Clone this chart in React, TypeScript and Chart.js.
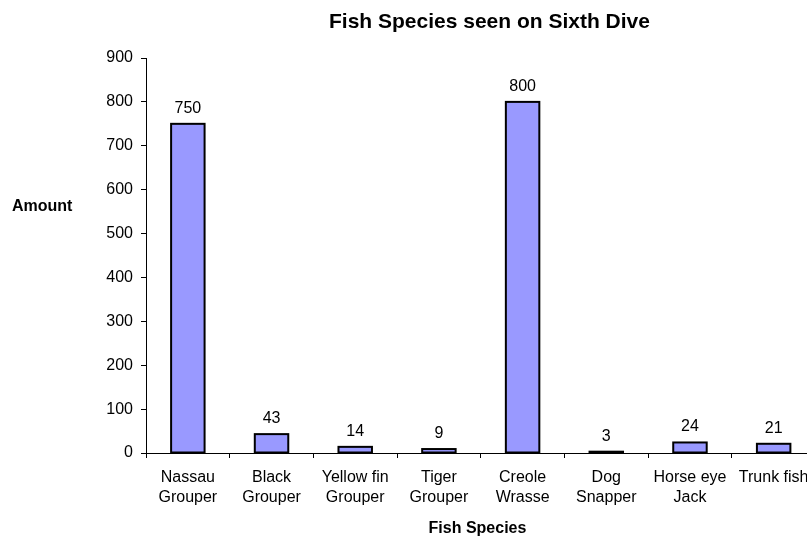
import React, { useEffect, useRef } from "react";
import { Chart, registerables } from "chart.js";

Chart.register(...registerables);

const categories: string[][] = [
  ["Nassau", "Grouper"],
  ["Black", "Grouper"],
  ["Yellow fin", "Grouper"],
  ["Tiger", "Grouper"],
  ["Creole", "Wrasse"],
  ["Dog", "Snapper"],
  ["Horse eye", "Jack"],
  ["Trunk fish"],
];
const amounts: number[] = [750, 43, 14, 9, 800, 3, 24, 21];
const yTicks: number[] = [0, 100, 200, 300, 400, 500, 600, 700, 800, 900];

const chartTitle = "Fish Species seen on Sixth Dive";
const yTitle = "Amount";
const xTitle = "Fish Species";

const FONT = "'Liberation Sans', Arial, Helvetica, sans-serif";

const textPlugin = {
  id: "customText",
  afterDatasetsDraw(chart: any) {
    const ctx = chart.ctx;
    ctx.save();
    const meta = chart.getDatasetMeta(0);
    // bar outlines straddling the bar edges
    ctx.strokeStyle = "#000";
    ctx.lineWidth = 2;
    meta.data.forEach((bar: any) => {
      const left = bar.x - bar.width / 2;
      const top = Math.min(bar.y, bar.base);
      const h = Math.abs(bar.base - bar.y);
      ctx.strokeRect(left, top, bar.width, h);
    });
    ctx.fillStyle = "#000";
    ctx.font = `16px ${FONT}`;
    ctx.textAlign = "center";
    ctx.textBaseline = "alphabetic";
    meta.data.forEach((bar: any, i: number) => {
      ctx.fillText(String(amounts[i]), bar.x, bar.y - 11);
    });
    ctx.restore();
  },
  afterDraw(chart: any) {
    const ctx = chart.ctx;
    ctx.save();
    ctx.fillStyle = "#000";
    ctx.textBaseline = "alphabetic";
    ctx.font = `bold 21px ${FONT}`;
    ctx.textAlign = "center";
    ctx.fillText(chartTitle, 489.5, 27.5);
    ctx.font = `bold 16px ${FONT}`;
    ctx.textAlign = "left";
    ctx.fillText(yTitle, 12, 210.5);
    ctx.textAlign = "center";
    ctx.fillText(xTitle, 477.5, 533);
    ctx.restore();
  },
};

export default function App() {
  const ref = useRef<HTMLCanvasElement | null>(null);
  useEffect(() => {
    if (!ref.current) return;
    const chart = new Chart(ref.current, {
      type: "bar",
      data: {
        labels: categories,
        datasets: [
          {
            data: amounts,
            backgroundColor: "#9999FF",
            borderWidth: 0,
            barPercentage: 0.4,
            categoryPercentage: 1.0,
          },
        ],
      },
      options: {
        animation: false,
        responsive: false,
        devicePixelRatio: 1,
        layout: { padding: { left: 101, right: 14.5, top: 58, bottom: 0 } },
        plugins: {
          legend: { display: false },
          title: { display: false },
          tooltip: { enabled: false },
        },
        scales: {
          x: {
            grid: {
              display: true,
              drawOnChartArea: false,
              tickLength: 5,
              color: "#000",
              offset: true,
            },
            border: { display: true, color: "#000", width: 1 },
            ticks: {
              color: "#000",
              font: { family: FONT, size: 16, lineHeight: 1.25 },
              padding: 10,
              maxRotation: 0,
              autoSkip: false,
            },
            afterFit(scale: any) {
              scale.height = 85;
            },
          },
          y: {
            min: 0,
            max: 900,
            afterBuildTicks(scale: any) {
              scale.ticks = yTicks.map((v) => ({ value: v }));
            },
            grid: {
              display: true,
              drawOnChartArea: false,
              tickLength: 5,
              color: "#000",
            },
            border: { display: true, color: "#000", width: 1 },
            ticks: {
              color: "#000",
              font: { family: FONT, size: 16 },
              padding: 8,
            },
            afterFit(scale: any) {
              scale.width = 45;
            },
          },
        },
      },
      plugins: [textPlugin],
    });
    return () => chart.destroy();
  }, []);
  return (
    <div
      style={{
        position: "fixed",
        left: 0,
        top: 0,
        width: 807,
        height: 538,
        overflow: "hidden",
        background: "#fff",
      }}
    >
      <canvas ref={ref} width={830} height={538} style={{ display: "block", width: 830, height: 538 }} />
    </div>
  );
}
